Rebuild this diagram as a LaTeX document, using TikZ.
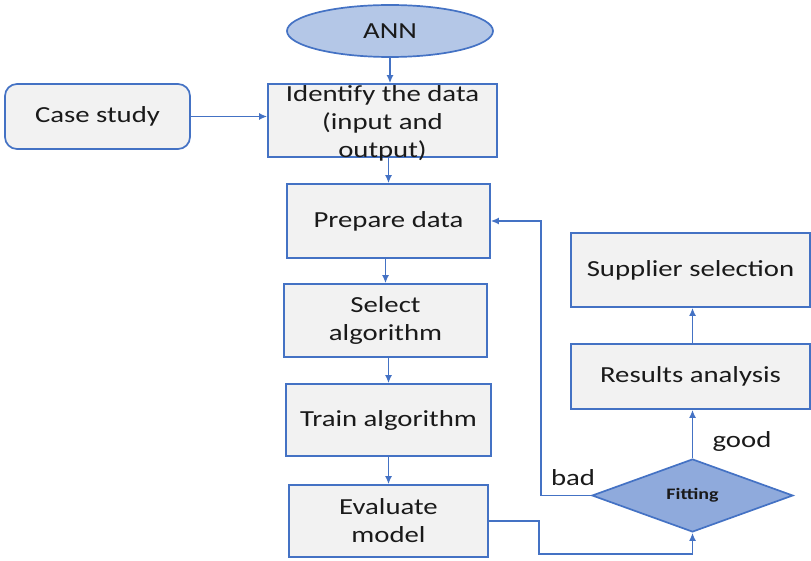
\documentclass[tikz,border=0pt]{standalone}
\usepackage{fontspec}
\setmainfont{Carlito}[FakeStretch=1.25]
\usetikzlibrary{shapes.geometric,arrows.meta}
\definecolor{bord}{HTML}{4472C4}
\definecolor{boxfill}{HTML}{F2F2F2}
\definecolor{ellfill}{HTML}{B4C7E7}
\definecolor{diafill}{HTML}{8FAADC}
\definecolor{txt}{HTML}{1A1A1A}
\tikzset{
  box/.style={draw=bord, fill=boxfill, line width=1.7pt, inner sep=0pt, text=txt, align=center,
    font=\fontsize{23}{28}\selectfont},
  lbl/.style={inner sep=0pt, text=txt, align=center, font=\fontsize{23}{28}\selectfont},
  conn/.style={draw=bord, line width=1.5pt, -{Latex[length=8pt,width=7pt]}},
  line/.style={draw=bord, line width=1.5pt}
}
\begin{document}
\begin{tikzpicture}[x=1pt,y=-1pt]
\useasboundingbox (0,0) rectangle (811,561);
% nodes
\node[ellipse, draw=bord, fill=ellfill, line width=1.7pt, minimum width=206, minimum height=52, inner sep=0pt,
  text=txt, font=\fontsize{23}{28}\selectfont] (ann) at (390,31) {ANN};
\node[box, rounded corners=12pt, minimum width=185, minimum height=65] (case) at (97.5,116.5) {Case study};
\node[box, minimum width=229, minimum height=73] (idbox) at (382.5,120.5) {};
\node[lbl] (idtext) at (382.5,123) {Identify the data\\(input and\\output)};
\node[box, minimum width=203, minimum height=74] (prep) at (388.5,221) {Prepare data};
\node[box, minimum width=203, minimum height=73] (sel) at (385.5,320.5) {Select\\algorithm};
\node[box, minimum width=205, minimum height=72] (train) at (388.5,420) {Train algorithm};
\node[box, minimum width=199, minimum height=72] (eval) at (388.5,521) {Evaluate\\model};
\node[diamond, draw=bord, fill=diafill, line width=1.7pt, minimum width=201, minimum height=73, inner sep=0pt,
  text=txt, font=\fontsize{16}{19}\selectfont\bfseries] (fit) at (692.5,495.5) {Fitting};
\node[box, minimum width=239, minimum height=65] (res) at (690.5,376.5) {Results analysis};
\node[box, minimum width=239, minimum height=74] (sup) at (690.5,270) {Supplier selection};
\node[lbl] (good) at (742,441) {good};
\node[lbl] (bad) at (573,478) {bad};
% connectors
\draw[conn] (ann.south) -- (ann.south |- idbox.north);
\draw[conn] (case.east) -- (case.east -| idbox.west);
\draw[conn] (prep.north |- idbox.south) -- (prep.north);
\draw[conn] (sel.north |- prep.south) -- (sel.north);
\draw[conn] (train.north |- sel.south) -- (train.north);
\draw[conn] (eval.north |- train.south) -- (eval.north);
\coordinate (e1) at (539,521);
\coordinate (e2) at (539,554);
\draw[conn] (eval.east |- e1) -- (e1) -- (e2) -- (e2 -| fit.south) -- (fit.south);
\coordinate (b1) at (541,495.5);
\draw[conn] (fit.west) -- (b1) |- (prep.east);
\draw[conn] (fit.north) -- (fit.north |- res.south);
\draw[conn] (res.north -| fit.north) -- (sup.south -| fit.north);
\end{tikzpicture}
\end{document}
